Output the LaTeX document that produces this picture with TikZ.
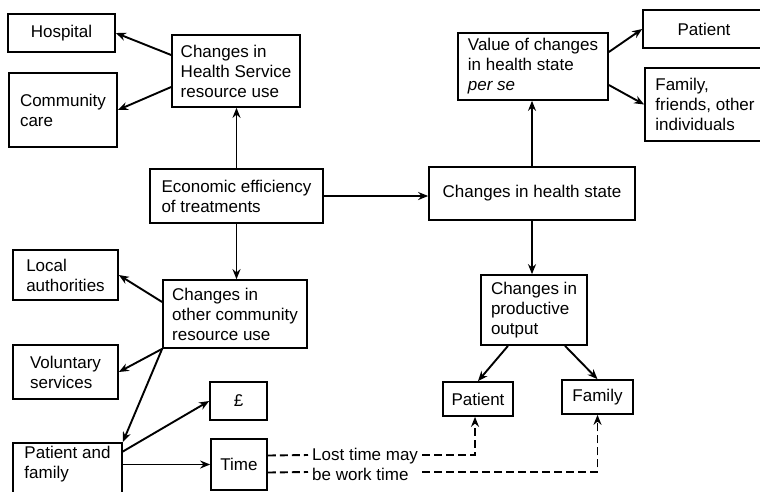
\documentclass[tikz,border=0pt]{standalone}
\usepackage{fontspec}
\setmainfont{Liberation Sans}
\usepackage{tikz}
\usetikzlibrary{arrows.meta, calc, positioning}
\newcommand{\diagramfont}{\fontsize{17}{20}\selectfont}
\tikzset{
    box/.style      = {draw, line width = 1.7pt, inner xsep = 7pt, inner ysep = 3pt, align = left, font = \diagramfont},
    size/.style 2 args = {minimum width = #1pt, minimum height = #2pt},
    link/.style     = {line width = 1.9pt, -{Stealth[length = 10pt, width = 8pt]}},
    lost/.style     = {line width = 1.9pt, dash pattern = on 8pt off 4pt},
    lostarrow/.style = {lost, -{Stealth[length = 10pt, width = 8pt]}},
    note/.style     = {align = left, font = \diagramfont, inner xsep = 4pt, inner ysep = 0pt}
}

\begin{document}
\begin{tikzpicture}[x=1pt, y=-1pt]
		\useasboundingbox (0,0) rectangle (760,491);

		\node[box, size={107}{38}, align=center] (hospital) at (61.5,33) {Hospital};
		\node[box, size={108}{74}] (community) at (63,110) {Community\\care};
		\node[box, size={128}{72}] (hsuse) at (236,71) {Changes in\\Health Service\\resource use};
		\node[box, size={173}{54}] (econ) at (236.5,196) {Economic efficiency\\of treatments};
		\node[box, size={206}{53}, align=center] (health) at (532,193.5) {Changes in health state};
		\node[box, size={105}{50}] (local) at (65.5,275) {Local\\authorities};
		\node[box, size={144}{68}] (otheruse) at (235,314) {Changes in\\other community\\resource use};
		\node[box, size={105}{54}] (voluntary) at (65.5,372) {Voluntary\\services};
		\node[box, minimum width=109pt, text depth=40pt, anchor=north] (patfam) at (67.5,442) {Patient and\\family};
		\node[box, size={57}{38}, align=center] (pound) at (238.5,401) {£};
		\node[box, size={56}{51}, align=center] (time) at (239,464.5) {Time};
		\node[note, anchor=west] (losttext) at (308,464) {Lost time may\\be work time};
		\coordinate (patfamout) at (122,452);

		\node[box, size={150}{67}] (value) at (533,66.5) {Value of changes\\in health state\\\textit{per se}};
		\node[box, size={122}{38}, align=center] (ppatient) at (704,29) {Patient};
		\node[box, size={120}{73}] (friends) at (705,104.5) {Family,\\friends, other\\individuals};
		\node[box, size={106}{70}] (output) at (534,310) {Changes in\\productive\\output};
		\node[box, size={70}{34}, align=center] (opatient) at (478,399) {Patient};
		\node[box, size={71}{34}, align=center] (ofamily) at (597.5,397) {Family};

		\draw[link] ([yshift=16pt]hsuse.west) -- (hospital.east);
		\draw[link] ([yshift=-16pt]hsuse.west) -- (community.east);
		\draw[link] (econ.north) -- (econ.north |- hsuse.south);
		\draw[link] (econ.east) -- (econ.east -| health.west);
		\draw[link] (econ.south) -- (econ.south |- otheruse.north);
		\draw[link] ([yshift=12pt]otheruse.west) -- (local.east);
		\draw[link] (otheruse.south west) -- (voluntary.east);
		\draw[link] (otheruse.south west) -- (patfam.north east);
		\draw[link] (patfamout) -- (pound.west);
		\draw[link] (time.west -| patfam.east) -- (time.west);
		\draw[lost] ([yshift=9pt]time.east) -- ([yshift=9pt]losttext.west);
		\draw[lost] ([yshift=-8pt]time.east) -- ([yshift=-8pt]losttext.west);
		\draw[lostarrow] ([yshift=9pt]losttext.east) -| ([xshift=-3pt]opatient.south);
		\draw[lostarrow] ([yshift=-8pt]losttext.east) -| (ofamily.south);

		\draw[link] (health.north) -- (health.north |- value.south);
		\draw[link] (health.south) -- (health.south |- output.north);
		\draw[link] ([yshift=14.5pt]value.east) -- (ppatient.west);
		\draw[link] ([yshift=-18.5pt]value.east) -- (friends.west);
		\draw[link] ([xshift=-26pt]output.south) -- (opatient.north);
		\draw[link] ([xshift=31pt]output.south) -- (ofamily.north);
	\end{tikzpicture}
\end{document}
